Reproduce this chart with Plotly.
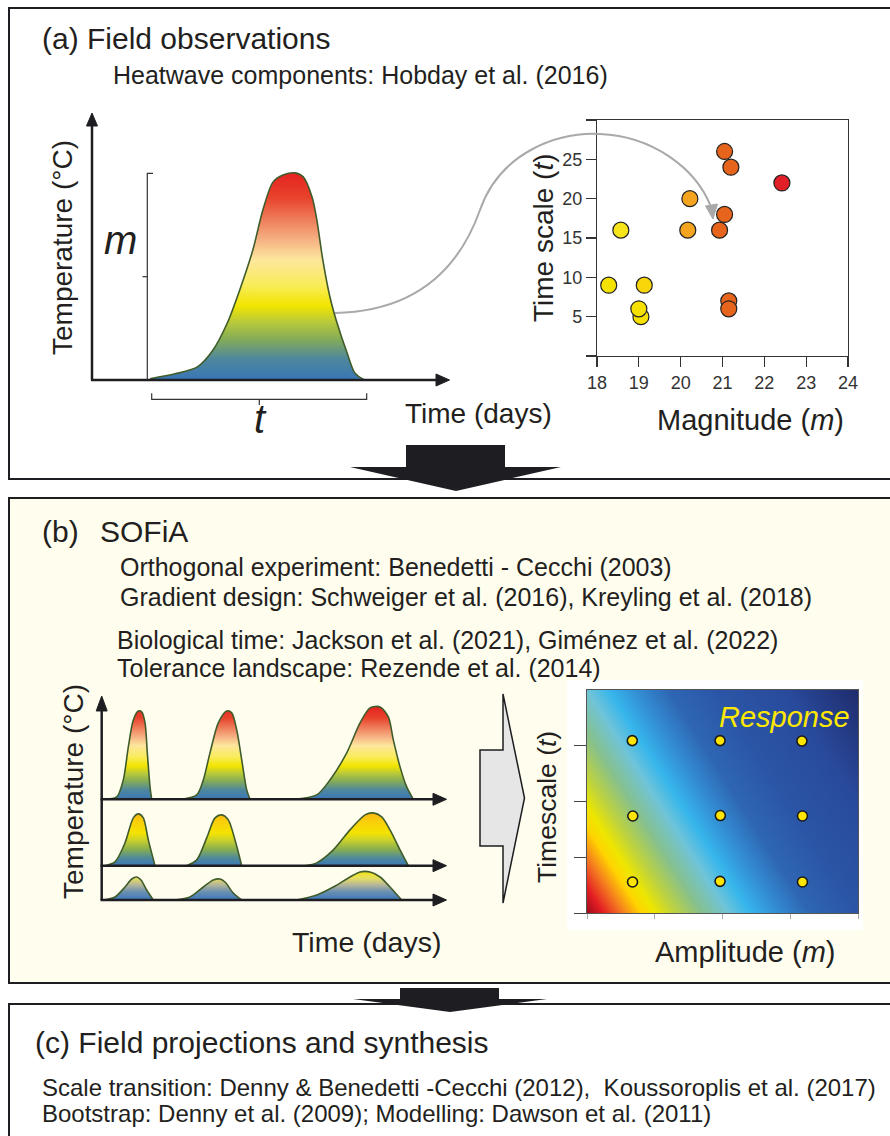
import plotly.graph_objects as go

W, H = 890, 1136
FONT = "Liberation Sans, Arial, Helvetica, sans-serif"
TXT = "#231f20"


def X(px):
    return px / W


def Y(py):
    return 1 - py / H


def poly(pts, close=True):
    s = "M " + " L ".join(f"{X(x):.5f},{Y(y):.5f}" for x, y in pts)
    return s + (" Z" if close else "")


# ---------------- data ----------------
# (a) single heatwave profile (days, temperature anomaly degC)
hw_day = [9.8, 14.0, 17.7, 20.4, 22.8, 24.9, 27.1, 28.8, 30.5, 32.2, 34.2,
          35.6, 37.1, 37.9, 38.9, 40.1, 41.3, 43.0, 44.3, 45.7, 46.2]
hw_temp = [0.03, 0.14, 0.29, 0.68, 1.29, 2.04, 2.94, 3.85, 4.48, 4.64, 4.69,
           4.60, 4.14, 3.62, 2.72, 1.88, 1.29, 0.61, 0.16, 0.02, 0.0]

# (a) observed heatwaves: magnitude vs timescale
obs_mag = [18.28, 18.57, 19.05, 19.00, 19.13, 20.17, 20.22, 20.93, 21.05, 21.05, 21.20, 21.15, 21.15, 22.42]
obs_ts = [9, 16, 5, 6, 9, 16, 20, 16, 18, 26, 24, 7, 6, 22]
obs_col = ["#f6e200", "#f7e41a", "#f6e000", "#f6e000", "#f8d60a", "#f4a41e", "#f4a41e",
           "#e6641c", "#e6641c", "#e6641c", "#e6641c", "#e6641c", "#e6641c", "#e11f26"]
mag_ticks = [18, 19, 20, 21, 22, 23, 24]
ts_ticks = [0, 5, 10, 15, 20, 25, 30]
ts_ticktext = ["", "5", "10", "15", "20", "25", ""]

# (b) experimental heatwave rows (three peaks per row): days / temperature
row_top_days = [
    [0.28, 2.61, 3.76, 4.64, 5.51, 6.38, 6.97, 7.55, 7.95, 8.42, 8.71],
    [13.94, 16.56, 17.71, 18.87, 20.32, 21.78, 22.66, 23.53, 24.40, 25.27, 25.85],
    [33.39, 37.47, 39.79, 42.70, 45.02, 46.76, 48.50, 49.95, 50.82, 51.99, 53.15, 54.31],
]
row_top_temp = [
    [0.0, 0.12, 0.97, 2.62, 3.97, 4.42, 4.37, 3.82, 2.32, 0.62, 0.0],
    [0.0, 0.22, 0.97, 2.32, 3.82, 4.42, 4.32, 3.47, 1.97, 0.47, 0.0],
    [0.0, 0.22, 0.97, 2.32, 3.82, 4.57, 4.62, 4.12, 2.97, 1.62, 0.62, 0.0],
]
row_mid_days = [
    [0.58, 2.32, 4.06, 5.51, 6.38, 7.25, 8.12, 9.29],
    [14.81, 16.56, 18.30, 19.75, 20.91, 22.06, 23.23, 24.40],
    [35.5, 37.47, 40.36, 43.27, 45.89, 47.33, 48.80, 50.24, 51.99, 53.43],
]
row_mid_temp = [
    [0.0, 0.19, 1.14, 2.39, 2.59, 2.39, 1.29, 0.0],
    [0.0, 0.29, 1.39, 2.39, 2.54, 2.29, 1.29, 0.0],
    [0.0, 0.14, 0.79, 1.79, 2.54, 2.64, 2.44, 1.79, 0.79, 0.0],
]
row_low_days = [
    [0.28, 2.32, 4.06, 5.23, 6.10, 6.85, 7.84, 8.99],
    [12.77, 15.39, 17.71, 19.45, 20.62, 21.49, 22.93, 24.40],
    [33.98, 37.47, 40.36, 43.27, 45.02, 46.76, 48.50, 50.24, 52.28],
]
row_low_temp = [
    [0.0, 0.15, 0.65, 1.05, 1.15, 1.0, 0.5, 0.0],
    [0.0, 0.15, 0.65, 1.0, 1.05, 0.9, 0.35, 0.0],
    [0.0, 0.25, 0.65, 1.15, 1.4, 1.4, 1.15, 0.65, 0.0],
]

# (b) response surface (normalised amplitude x timescale)
amp_grid = [0.0, 0.5, 1.0]
tsc_grid = [0.0, 0.5, 1.0]
response = [[0.00, 0.50, 1.00],
            [0.26, 0.76, 1.26],
            [0.52, 1.02, 1.52]]
design_amp = [0.167, 0.491, 0.793, 0.169, 0.492, 0.795, 0.168, 0.491, 0.795]
design_tsc = [0.773, 0.773, 0.771, 0.435, 0.437, 0.435, 0.139, 0.142, 0.139]

# ---------------- colour scales ----------------
cs_heat = [[0.0, "#3a76b6"], [0.10, "#4d879e"], [0.20, "#86ad55"], [0.28, "#b9c93a"],
           [0.36, "#f2e500"], [0.46, "#f9ec5c"], [0.58, "#fde79c"], [0.68, "#f5b082"],
           [0.78, "#ee7a58"], [0.88, "#e8432c"], [1.0, "#e42320"]]
cs_mid = [[0.0, "#3a76b6"], [0.15, "#4f8b98"], [0.32, "#8cb04c"], [0.48, "#c9d12c"],
          [0.62, "#f4e300"], [0.82, "#f9d00a"], [1.0, "#fab812"]]
cs_low = [[0.0, "#3c78bc"], [0.30, "#6c90b0"], [0.55, "#b8b898"], [0.78, "#e6df60"],
          [1.0, "#f2e21a"]]
vmax = 1.52
cs_resp = [[0.00 / vmax, "#9e0b1c"], [0.06 / vmax, "#e31e24"], [0.13 / vmax, "#f47a20"],
           [0.20 / vmax, "#ffd400"], [0.25 / vmax, "#eee600"], [0.32 / vmax, "#bfd33c"],
           [0.42 / vmax, "#86c08c"], [0.52 / vmax, "#70c4d8"], [0.60 / vmax, "#36b6ec"],
           [0.70 / vmax, "#338ed2"], [0.82 / vmax, "#2e66b4"], [1.00 / vmax, "#2b55a6"],
           [1.25 / vmax, "#294a9c"], [1.52 / vmax, "#1f2c6c"]]

LINE_C = "#3f5c2a"

fig = go.Figure()

# (a) heatwave curve
fig.add_trace(go.Scatter(x=hw_day, y=hw_temp, mode="lines", xaxis="x", yaxis="y",
                         line=dict(color=LINE_C, width=1.6, shape="spline", smoothing=0.8),
                         fill="tozeroy",
                         fillgradient=dict(type="vertical", colorscale=cs_heat, start=0, stop=max(hw_temp)),
                         hoverinfo="skip", showlegend=False))

# (a) scatter
fig.add_trace(go.Scatter(x=obs_mag, y=obs_ts, mode="markers", xaxis="x2", yaxis="y2",
                         marker=dict(size=16, color=obs_col, line=dict(color="#222222", width=1.2)),
                         showlegend=False))

# (b) rows
rows = [(row_top_days, row_top_temp, "x3", "y3", cs_heat, 4.62),
        (row_mid_days, row_mid_temp, "x4", "y4", cs_mid, 2.64),
        (row_low_days, row_low_temp, "x5", "y5", cs_low, 1.4)]
for days, temps, xa, ya, cs, top in rows:
    for d, t in zip(days, temps):
        fig.add_trace(go.Scatter(x=d, y=t, mode="lines", xaxis=xa, yaxis=ya,
                                 line=dict(color=LINE_C, width=1.6, shape="spline", smoothing=0.8),
                                 fill="tozeroy",
                                 fillgradient=dict(type="vertical", colorscale=cs, start=0, stop=top),
                                 hoverinfo="skip", showlegend=False))

# (b) response surface
fig.add_trace(go.Heatmap(x=amp_grid, y=tsc_grid, z=response, zsmooth="best",
                         colorscale=cs_resp, zmin=0, zmax=vmax, showscale=False,
                         xaxis="x6", yaxis="y6", hoverinfo="skip"))
fig.add_trace(go.Scatter(x=design_amp, y=design_tsc, mode="markers", xaxis="x6", yaxis="y6",
                         marker=dict(size=10, color="#ffe600", line=dict(color="#1a1a1a", width=1.6)),
                         showlegend=False))

# ---------------- axes ----------------
hidden = dict(visible=False, showgrid=False, zeroline=False, automargin=False)
layout = dict(
    width=W, height=H, autosize=False, margin=dict(l=0, r=0, t=0, b=0, pad=0),
    paper_bgcolor="white", plot_bgcolor="rgba(0,0,0,0)",
    font=dict(family=FONT, color=TXT),
    showlegend=False,
)
layout["xaxis"] = dict(hidden, domain=[X(92), X(448)], range=[0, 60])
layout["yaxis"] = dict(hidden, domain=[Y(380), Y(115)], range=[0, 6])

axcommon = dict(showgrid=False, zeroline=False, showline=True, linecolor="#333333", linewidth=1.2,
                mirror=True, ticks="outside", ticklen=10, tickcolor="#333333", tickwidth=1.2,
                automargin=False, tickfont=dict(size=18, color="#333333", family=FONT))
layout["xaxis2"] = dict(axcommon, domain=[X(597), X(848)], range=[18, 24], tickvals=mag_ticks,
                        anchor="y2")
layout["yaxis2"] = dict(axcommon, domain=[Y(356), Y(120)], range=[0, 30], tickvals=ts_ticks,
                        ticktext=ts_ticktext, anchor="x2")

for i, (base, top_units) in zip([3, 4, 5], [(799.3, 5.2), (865.7, 3.2), (900.0, 1.6)]):
    layout[f"xaxis{i}"] = dict(hidden, domain=[X(101.7), X(446)], range=[0, 60], anchor=f"y{i}")
    layout[f"yaxis{i}"] = dict(hidden, domain=[Y(base), Y(base - top_units * 20)],
                               range=[0, top_units], anchor=f"x{i}")

layout["xaxis6"] = dict(domain=[X(587), X(858)], range=[0, 1], anchor="y6", showgrid=False,
                        zeroline=False, showline=True, linecolor="#555555", linewidth=1, mirror=True,
                        ticks="outside", ticklen=5, tickcolor="#aaaaaa", tickvals=[0, 0.25, 0.5, 0.75, 1],
                        showticklabels=False, automargin=False)
layout["yaxis6"] = dict(domain=[Y(913), Y(690)], range=[0, 1], anchor="x6", showgrid=False,
                        zeroline=False, showline=True, linecolor="#555555", linewidth=1, mirror=True,
                        ticks="outside", ticklen=12, tickcolor="#444444", tickvals=[0, 0.25, 0.5, 0.75],
                        showticklabels=False, automargin=False)
fig.update_layout(**layout)

# ---------------- shapes ----------------
shapes = []
BORDER = "#1e1e22"
RIGHT = 893
# panel boxes
shapes.append(dict(type="rect", xref="paper", yref="paper", x0=X(9), x1=X(RIGHT), y0=Y(8), y1=Y(479),
                   line=dict(color=BORDER, width=2), fillcolor="white", layer="below"))
shapes.append(dict(type="rect", xref="paper", yref="paper", x0=X(9), x1=X(RIGHT), y0=Y(498), y1=Y(983),
                   line=dict(color=BORDER, width=2), fillcolor="#fffdee", layer="below"))
shapes.append(dict(type="rect", xref="paper", yref="paper", x0=X(9), x1=X(RIGHT), y0=Y(1004), y1=Y(1140),
                   line=dict(color=BORDER, width=2), fillcolor="white", layer="below"))
# white backdrop of response surface
shapes.append(dict(type="rect", xref="paper", yref="paper", x0=X(567), x1=X(863), y0=Y(680), y1=Y(930),
                   line=dict(width=0), fillcolor="white", layer="below"))

# big block arrows between panels
shapes.append(dict(type="path", xref="paper", yref="paper",
                   path=poly([(406, 445), (505, 445), (505, 467), (561, 467), (456, 491), (350, 467), (406, 467)]),
                   fillcolor=BORDER, line=dict(width=0)))
shapes.append(dict(type="path", xref="paper", yref="paper",
                   path=poly([(400, 988), (499, 988), (499, 999), (547, 999), (450, 1012), (353, 999), (400, 999)]),
                   fillcolor=BORDER, line=dict(width=0)))

AX = "#1e1e22"
# (a) axes arrows
shapes.append(dict(type="path", xref="paper", yref="paper", path=poly([(92, 380), (92, 124)], close=False),
                   line=dict(color=AX, width=2.5)))
shapes.append(dict(type="path", xref="paper", yref="paper", path=poly([(86.5, 126), (97.5, 126), (92, 113)]),
                   fillcolor=AX, line=dict(color=AX, width=1)))
shapes.append(dict(type="path", xref="paper", yref="paper", path=poly([(91, 380), (438, 380)], close=False),
                   line=dict(color=AX, width=2.5)))
shapes.append(dict(type="path", xref="paper", yref="paper", path=poly([(436, 374), (436, 386), (449.5, 380)]),
                   fillcolor=AX, line=dict(color=AX, width=1)))
# m bracket
BR = "#333333"
shapes.append(dict(type="path", xref="paper", yref="paper",
                   path=poly([(153, 173.3), (147.3, 173.3), (147.3, 380)], close=False),
                   line=dict(color=BR, width=1.2)))
shapes.append(dict(type="path", xref="paper", yref="paper", path=poly([(142.5, 276.7), (147.3, 276.7)], close=False),
                   line=dict(color=BR, width=1.2)))
# t bracket
shapes.append(dict(type="path", xref="paper", yref="paper",
                   path=poly([(151.7, 393.3), (151.7, 399.3), (366.7, 399.3), (366.7, 393.3)], close=False),
                   line=dict(color=BR, width=1.2)))
shapes.append(dict(type="path", xref="paper", yref="paper", path=poly([(259.3, 399.3), (259.3, 405)], close=False),
                   line=dict(color=BR, width=1.2)))

# grey connector arrow
def bez(p0, segs):
    s = f"M {X(p0[0]):.5f},{Y(p0[1]):.5f}"
    for c1, c2, e in segs:
        s += f" C {X(c1[0]):.5f},{Y(c1[1]):.5f} {X(c2[0]):.5f},{Y(c2[1]):.5f} {X(e[0]):.5f},{Y(e[1]):.5f}"
    return s


shapes.append(dict(type="path", xref="paper", yref="paper",
                   path=bez((335, 313), [((430, 311), (465, 252), (480, 210)),
                                         ((500, 152), (558, 132), (600, 134)),
                                         ((652, 136), (696, 168), (711, 207))]),
                   line=dict(color="#a9a9a9", width=2)))
shapes.append(dict(type="path", xref="paper", yref="paper", path=poly([(705.5, 206), (717.5, 204), (713, 219)]),
                   fillcolor="#a9a9a9", line=dict(color="#a9a9a9", width=1)))

# (b) axes arrows
shapes.append(dict(type="path", xref="paper", yref="paper", path=poly([(101.7, 900), (101.7, 708)], close=False),
                   line=dict(color=AX, width=2.5)))
shapes.append(dict(type="path", xref="paper", yref="paper", path=poly([(96.2, 711), (107.2, 711), (101.7, 696)]),
                   fillcolor=AX, line=dict(color=AX, width=1)))
for base in [799.3, 865.7, 900.0]:
    shapes.append(dict(type="path", xref="paper", yref="paper", path=poly([(100.5, base), (436, base)], close=False),
                       line=dict(color=AX, width=2.5)))
    shapes.append(dict(type="path", xref="paper", yref="paper",
                       path=poly([(433, base - 6), (433, base + 6), (446.5, base)]),
                       fillcolor=AX, line=dict(color=AX, width=1)))

# hollow transition arrow
shapes.append(dict(type="path", xref="paper", yref="paper",
                   path=poly([(480, 750), (503, 750), (503, 694), (524.5, 798), (503, 903), (503, 846), (480, 846)]),
                   fillcolor="#e6e6e6", line=dict(color="#1e1e22", width=1.5)))

fig.update_layout(shapes=shapes)

# ---------------- text ----------------
ann = []


def A(text, px, py, size, xanchor="left", angle=0, color=TXT):
    ann.append(dict(text=text, x=X(px), y=Y(py), xref="paper", yref="paper", showarrow=False,
                    xanchor=xanchor, yanchor="middle", textangle=angle,
                    font=dict(size=size, color=color, family=FONT)))


A("(a) Field observations", 40, 38, 30)
A("Heatwave components: Hobday et al. (2016)", 111, 75, 25)
A("Temperature (°C)", 62, 247, 28, xanchor="center", angle=-90)
A("<i>m</i>", 120, 240, 40, xanchor="center")
A("<i>t</i>", 260, 419, 40, xanchor="center")
A("Time (days)", 403, 413, 28)
A("Time scale (<i>t</i>)", 543, 238, 28, xanchor="center", angle=-90)
A("Magnitude (<i>m</i>)", 750, 420, 29, xanchor="center")

A("(b)", 40, 532, 30)
A("SOFiA", 98, 532, 30)
A("Orthogonal experiment: Benedetti - Cecchi (2003)", 118, 567, 25)
A("Gradient design: Schweiger et al. (2016), Kreyling et al. (2018)", 118, 597, 25)
A("Biological time: Jackson et al. (2021), Giménez et al. (2022)", 115, 640, 25)
A("Tolerance landscape: Rezende et al. (2014)", 115, 668, 25)
A("Temperature (°C)", 73, 792, 28, xanchor="center", angle=-90)
A("Time (days)", 290, 942, 28.5)
A("Timescale (<i>t</i>)", 547, 807, 26.5, xanchor="center", angle=-90)
A("Amplitude (<i>m</i>)", 653, 952, 29)
A("<i>Response</i>", 852, 717, 29, xanchor="right", color="#ffe800")

A("(c) Field projections and synthesis", 33, 1042, 30)
A("Scale transition: Denny &amp; Benedetti -Cecchi (2012),\u00a0\u00a0Koussoroplis et al. (2017)", 40, 1087, 24)
A("Bootstrap: Denny et al. (2009); Modelling: Dawson et al. (2011)", 40, 1113, 24)

fig.update_layout(annotations=ann)

fig.write_html("out.html",
               config={"displayModeBar": False, "responsive": False, "staticPlot": True},
               post_script="document.body.style.margin='0';document.body.style.overflow='hidden';")
